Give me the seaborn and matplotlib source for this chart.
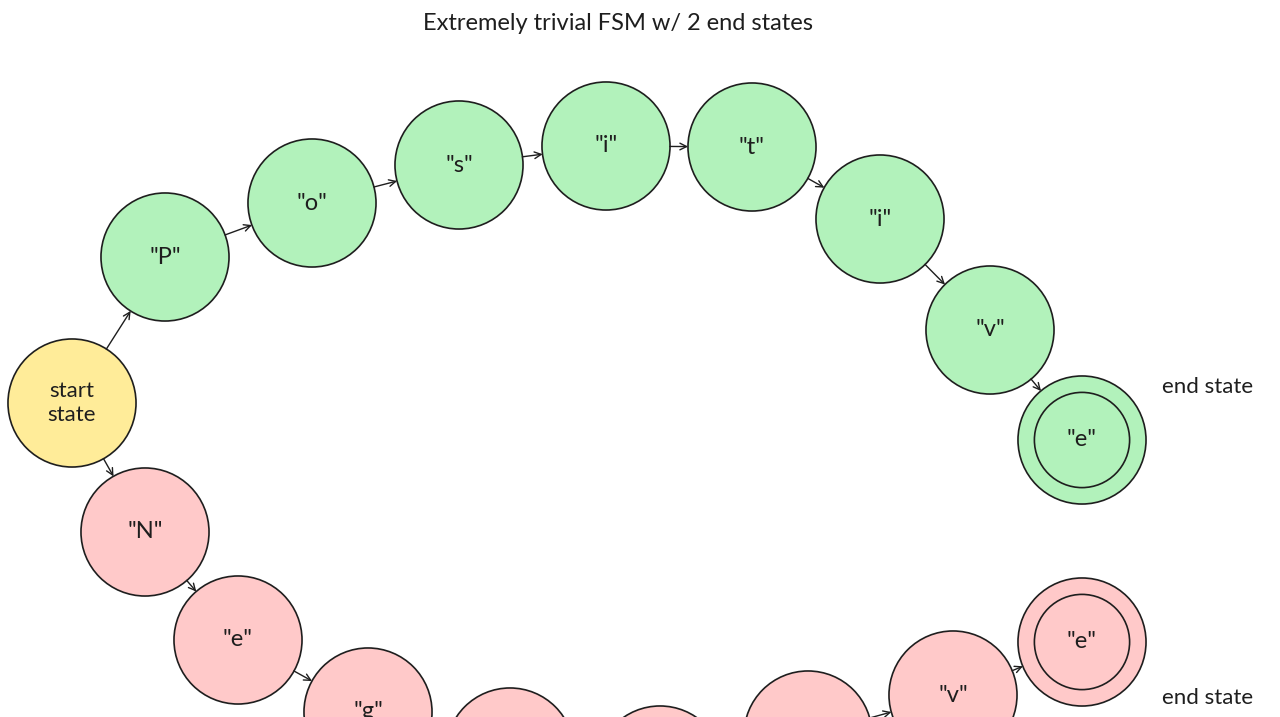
import matplotlib
matplotlib.use("Agg")
import matplotlib.pyplot as plt
import seaborn as sns
import pandas as pd

sns.set_theme(style="white")
plt.rcParams['font.family'] = ['Lato', 'DejaVu Sans']

title = "Extremely trivial FSM w/ 2 end states"
pos_labels = ['start\nstate', '"P"', '"o"', '"s"', '"i"', '"t"', '"i"', '"v"', '"e"']
pos_x = [72, 165, 312, 459, 606, 752, 880, 990, 1082]
pos_y = [403, 257, 203, 165, 146, 147, 219, 330, 440]
neg_labels = ['"N"', '"e"', '"g"', '"a"', '"t"', '"i"', '"v"', '"e"']
neg_x = [145, 238, 368, 510, 660, 808, 953, 1082]
neg_y = [532, 640, 712, 752, 770, 735, 695, 642]
end_label = "end state"
end_label_pos = [(1208, 387), (1208, 698)]

GREEN, RED, YELLOW = "#b2f2bb", "#ffc9c9", "#ffec99"

rows = []
for i, (l, x, y) in enumerate(zip(pos_labels, pos_x, pos_y)):
    rows.append(dict(label=l, x=x, y=y, kind="start" if i == 0 else "pos"))
for l, x, y in zip(neg_labels, neg_x, neg_y):
    rows.append(dict(label=l, x=x, y=y, kind="neg"))
df = pd.DataFrame(rows)

fig = plt.figure(figsize=(12.8, 7.17), dpi=100)
ax = fig.add_axes([0, 0, 1, 1])
ax.set_xlim(0, 1280)
ax.set_ylim(717, 0)
ax.axis("off")

S = 8500
sns.scatterplot(data=df, x="x", y="y", hue="kind",
                palette={"start": YELLOW, "pos": GREEN, "neg": RED},
                s=S, edgecolor="#1e1e1e", linewidth=1.2, legend=False, ax=ax, zorder=2)
# inner circles of end states
ends = pd.DataFrame(dict(x=[pos_x[-1], neg_x[-1]], y=[pos_y[-1], neg_y[-1]]))
sns.scatterplot(data=ends, x="x", y="y", s=4700, facecolor="none",
                edgecolor="#1e1e1e", linewidth=1.2, legend=False, ax=ax, zorder=3)

for _, r in df.iterrows():
    ax.text(r.x, r.y, r.label, ha="center", va="center", fontsize=17 if r.kind != "start" else 16,
            color="#1e1e1e", zorder=4, linespacing=1.3)

def arrows(xs, ys):
    for i in range(len(xs) - 1):
        ax.annotate("", xy=(xs[i + 1], ys[i + 1]), xytext=(xs[i], ys[i]),
                    arrowprops=dict(arrowstyle="->", color="#1e1e1e", lw=1,
                                    shrinkA=46, shrinkB=46), zorder=5)

arrows(pos_x, pos_y)
arrows([pos_x[0]] + neg_x, [pos_y[0]] + neg_y)

for (x, y) in end_label_pos:
    ax.text(x, y, end_label, ha="center", va="center", fontsize=16, color="#1e1e1e")
ax.text(618, 24, title, ha="center", va="center", fontsize=17, color="#1e1e1e")

fig.savefig("out.png", dpi=100)
